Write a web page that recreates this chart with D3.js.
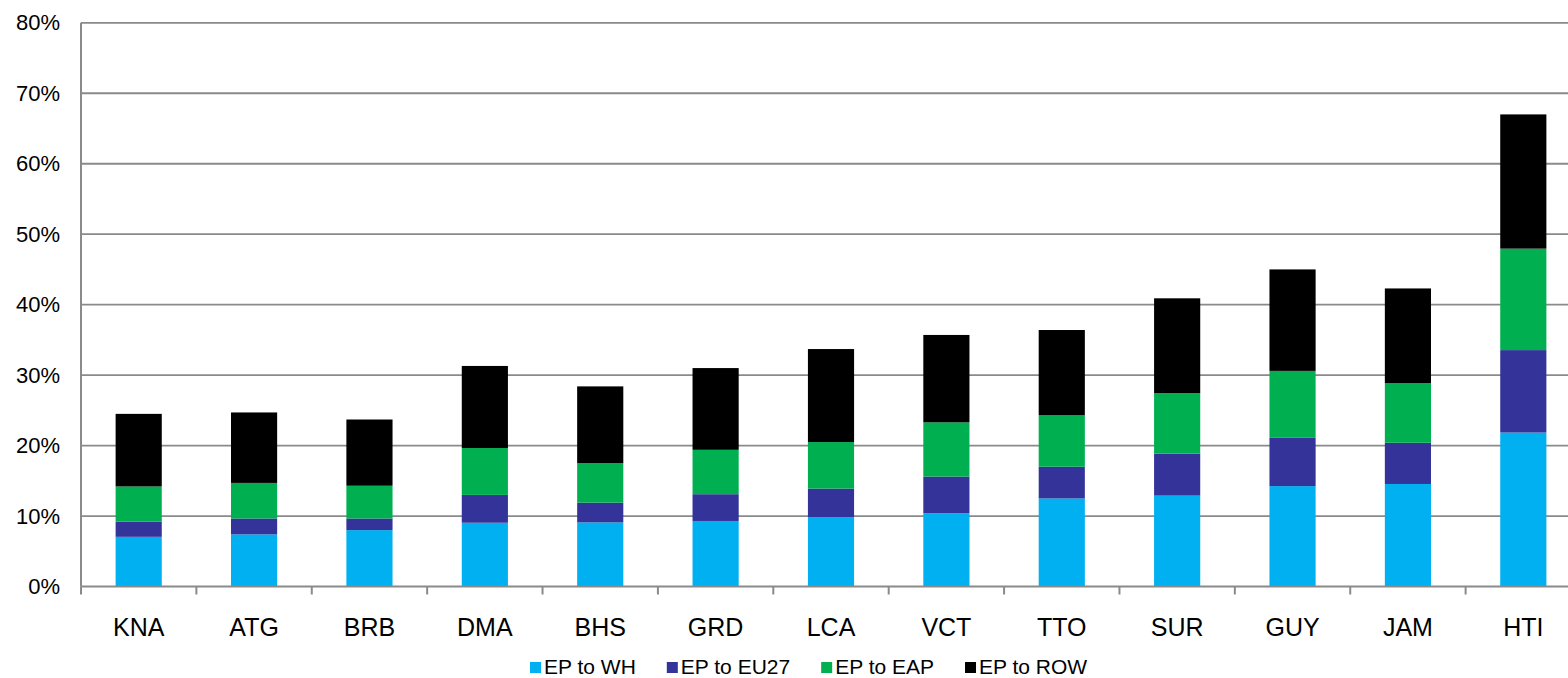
<!DOCTYPE html>
<html>
<head>
<meta charset="utf-8">
<script src="https://cdn.jsdelivr.net/npm/d3@7"></script>
<style>
  html, body { margin: 0; padding: 0; background: #fff; }
  svg { display: block; font-family: "Liberation Sans", Arial, sans-serif; }
</style>
</head>
<body>
<svg id="chart" width="1568" height="678"></svg>
<script>
// Export shares by destination, per country (percent)
const categories = ["KNA", "ATG", "BRB", "DMA", "BHS", "GRD", "LCA", "VCT", "TTO", "SUR", "GUY", "JAM", "HTI"];
const seriesNames = ["EP to WH", "EP to EU27", "EP to EAP", "EP to ROW"];
const epToWH   = [7.05, 7.4, 8.0, 9.05, 9.1, 9.3, 9.85, 10.4, 12.5, 12.9, 14.25, 14.55, 21.85];
const epToEU27 = [2.15, 2.25, 1.65, 3.95, 2.8, 3.8, 4.05, 5.2, 4.5, 5.95, 6.85, 5.85, 11.7];
const epToEAP  = [5.0, 5.05, 4.65, 6.65, 5.6, 6.3, 6.6, 7.7, 7.3, 8.6, 9.5, 8.45, 14.4];
const epToROW  = [10.3, 10.0, 9.4, 11.65, 10.9, 11.6, 13.2, 12.4, 12.1, 13.45, 14.4, 13.45, 19.05];
const yTicks = [0, 10, 20, 30, 40, 50, 60, 70, 80];
const colors = ["#00B0F0", "#333399", "#00B050", "#000000"];

const svg = d3.select("#chart");
const plotLeft = 81, plotRight = 1581, plotTop = 22.8, plotBottom = 586.5;

const rows = categories.map((c, i) => ({
  cat: c,
  [seriesNames[0]]: epToWH[i],
  [seriesNames[1]]: epToEU27[i],
  [seriesNames[2]]: epToEAP[i],
  [seriesNames[3]]: epToROW[i]
}));
const stacked = d3.stack().keys(seriesNames)(rows);

const x = d3.scaleBand().domain(categories).range([plotLeft, plotRight]).padding(0);
const y = d3.scaleLinear().domain([0, 80]).range([plotBottom, plotTop]);
const gridColor = "#8a8a8a";

// horizontal gridlines
svg.append("g")
  .selectAll("line")
  .data(yTicks.filter(t => t > 0))
  .join("line")
  .attr("x1", plotLeft).attr("x2", plotRight)
  .attr("y1", d => y(d)).attr("y2", d => y(d))
  .attr("stroke", gridColor).attr("stroke-width", 1.8);

// y axis labels
const yAxis = svg.append("g")
  .attr("transform", `translate(${plotLeft},0)`)
  .call(d3.axisLeft(y).tickValues(yTicks).tickFormat(d => d + "%").tickSize(0).tickPadding(21));
yAxis.select(".domain").remove();
yAxis.selectAll("text")
  .attr("font-size", 22).attr("fill", "#000")
  .attr("font-family", "'Liberation Sans', Arial, sans-serif");

// stacked bars
const bw = x.bandwidth() * 0.4;
svg.append("g")
  .selectAll("g")
  .data(stacked)
  .join("g")
  .attr("fill", (d, i) => colors[i])
  .selectAll("rect")
  .data(d => d)
  .join("rect")
  .attr("x", d => x(d.data.cat) + (x.bandwidth() - bw) / 2)
  .attr("width", bw)
  .attr("y", d => y(d[1]))
  .attr("height", d => y(d[0]) - y(d[1]));

// left axis line
svg.append("line")
  .attr("x1", plotLeft).attr("x2", plotLeft)
  .attr("y1", plotTop).attr("y2", plotBottom)
  .attr("stroke", gridColor).attr("stroke-width", 2);

// x axis: baseline, ticks at band boundaries, category labels
const xAxis = svg.append("g")
  .attr("transform", `translate(0,${plotBottom})`)
  .call(d3.axisBottom(x).tickSize(0).tickPadding(32));
xAxis.select(".domain").remove();
xAxis.selectAll("text")
  .attr("font-size", 25).attr("fill", "#000")
  .attr("font-family", "'Liberation Sans', Arial, sans-serif");

svg.append("line")
  .attr("x1", plotLeft).attr("x2", plotRight)
  .attr("y1", plotBottom).attr("y2", plotBottom)
  .attr("stroke", gridColor).attr("stroke-width", 2);

svg.append("g")
  .selectAll("line")
  .data(categories)
  .join("line")
  .attr("x1", d => x(d)).attr("x2", d => x(d))
  .attr("y1", plotBottom).attr("y2", plotBottom + 8)
  .attr("stroke", gridColor).attr("stroke-width", 2);

// legend
const legend = svg.append("g");
let cursor = 530;
seriesNames.forEach((name, i) => {
  const item = legend.append("g").attr("transform", `translate(${cursor},0)`);
  item.append("rect")
    .attr("x", 0).attr("y", 662).attr("width", 11).attr("height", 11)
    .attr("fill", colors[i]);
  const t = item.append("text")
    .attr("x", 14).attr("y", 673.5)
    .attr("font-size", 21).attr("fill", "#000")
    .text(name);
  cursor += 14 + t.node().getComputedTextLength() + 31;
});
</script>
</body>
</html>
